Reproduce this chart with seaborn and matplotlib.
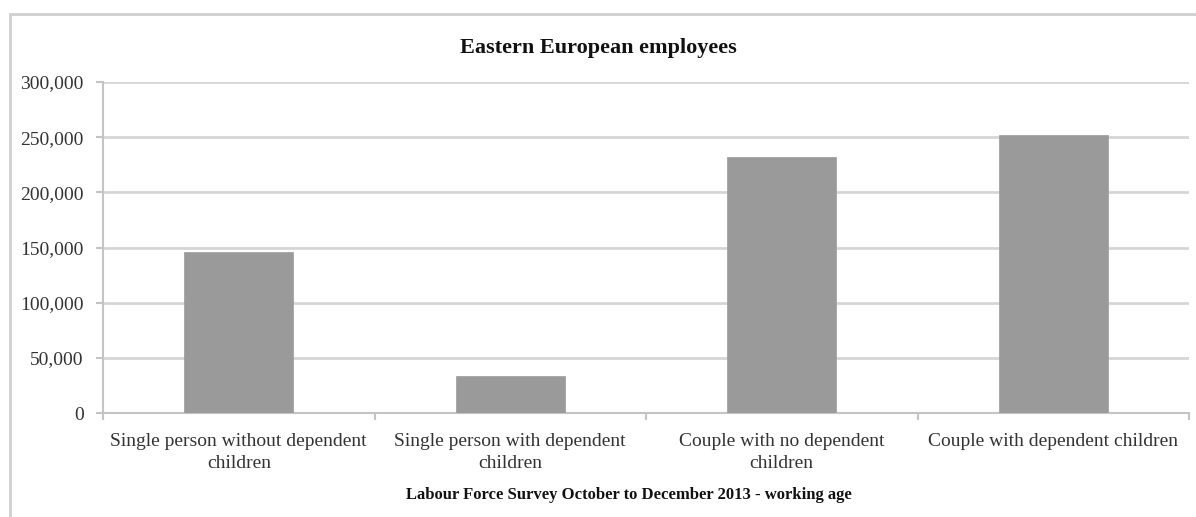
import matplotlib
matplotlib.use("Agg")
import matplotlib.pyplot as plt
import seaborn as sns
import pandas as pd
from matplotlib.patches import Rectangle
from matplotlib.ticker import FuncFormatter, FixedLocator

categories = [
    "Single person without dependent\nchildren",
    "Single person with dependent\nchildren",
    "Couple with no dependent\nchildren",
    "Couple with dependent children",
]
employees = [146000, 33800, 232300, 251700]
yticks = [0, 50000, 100000, 150000, 200000, 250000, 300000]
title = "Eastern European employees"
footer = "Labour Force Survey October to December 2013 - working age"

df = pd.DataFrame({"category": categories, "employees": employees})

sns.set_theme(style="white")
plt.rcParams["font.family"] = ["Liberation Serif", "DejaVu Serif"]

W, H = 1196, 517
fig = plt.figure(figsize=(W / 100, H / 100), dpi=100)
ax = fig.add_axes([103 / W, 1 - 413.3 / H, (1189 - 103) / W, (413.3 - 82) / H])

sns.barplot(data=df, x="category", y="employees", order=categories,
            color="#9a9a9a", saturation=1, width=0.4, ax=ax, zorder=3,
            edgecolor="#9a9a9a", linewidth=0.5)

ax.set_xlim(-0.5, len(categories) - 0.5)
ax.set_ylim(0, 300000)
ax.set_yticks(yticks)
ax.yaxis.set_major_formatter(FuncFormatter(lambda v, p: f"{int(v):,}"))
ax.grid(axis="y", color="#d6d6d6", linewidth=2, zorder=0)
ax.set_axisbelow(True)

for s in ["top", "right"]:
    ax.spines[s].set_visible(False)
for s in ["left", "bottom"]:
    ax.spines[s].set_color("#c4c4c4")
    ax.spines[s].set_linewidth(1.5)

ax.tick_params(axis="y", which="major", left=True, length=5, width=1.5,
               color="#c4c4c4", labelsize=14, labelcolor="#333333", pad=9)
ax.tick_params(axis="x", which="major", bottom=False, length=0,
               labelsize=14, labelcolor="#333333", pad=14)
ax.xaxis.set_minor_locator(FixedLocator([i - 0.5 for i in range(len(categories) + 1)]))
ax.tick_params(axis="x", which="minor", bottom=True, length=5, width=1.5,
               color="#c4c4c4")
for lab in ax.get_xticklabels():
    lab.set_linespacing(1.4)

ax.set_xlabel("")
ax.set_ylabel("")

fig.text(598 / W, 1 - 52.5 / H, title, ha="center", va="baseline",
         fontsize=16, fontweight="bold", color="#111111")
fig.text(629 / W, 1 - 495 / H, footer, ha="center", va="center",
         fontsize=12, fontweight="bold", color="#111111")

frame = Rectangle((10 / W, -0.2), 1.5, 1 - 13.5 / H + 0.2, transform=fig.transFigure,
                  fill=False, edgecolor="#cfcfcf", linewidth=2, zorder=-1)
fig.patches.append(frame)

fig.savefig("out.png", dpi=100)
